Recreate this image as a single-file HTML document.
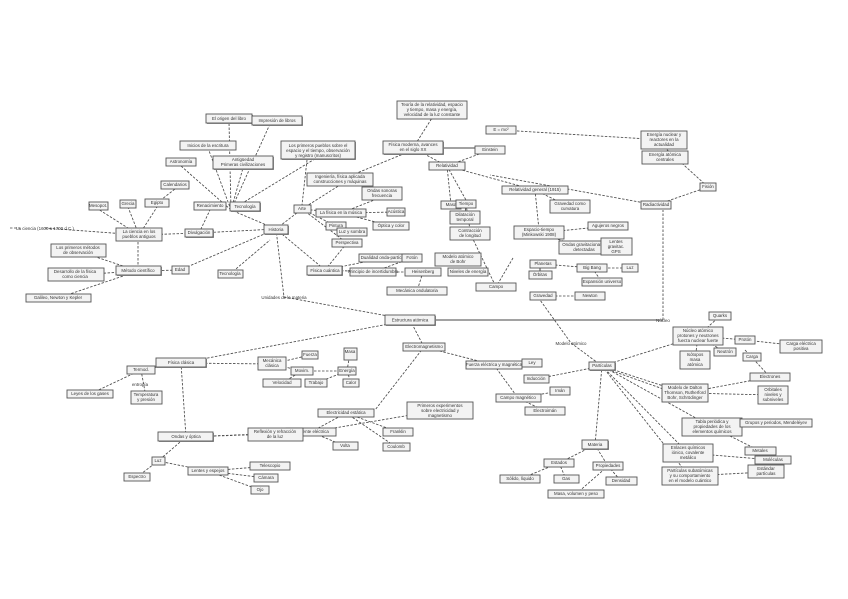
<!DOCTYPE html>
<html><head><meta charset="utf-8"><style>
html,body{margin:0;padding:0;background:#fff;}
svg{display:block}
.b{fill:#f3f3f3;stroke:#555;stroke-width:0.9}
.s{fill:#999}
.l{stroke:#4a4a4a;stroke-width:0.85;fill:none;stroke-dasharray:2.5 1.5}
.ls{stroke:#444;stroke-width:1;fill:none}
text{font-family:"Liberation Sans",sans-serif;font-size:4.4px;fill:#333;text-anchor:middle}
</style></head><body>
<svg width="848" height="599" viewBox="0 0 848 599" xmlns="http://www.w3.org/2000/svg">
<g>
<path class="l" d="M276 229L231 210M231 210L229 122M231 210L270 124M231 210L208 148M231 210L243 168M231 210L181 166M231 210L318 157M307 160L302 205M276 229L199 233M199 233L210 210M199 233L139 235M139 235L157 207M139 235L128 207M139 235L98 209M157 203L175 189M139 235L45 228M138 242L138 266M138 271L78 251M138 271L75 275M138 271L58 298M138 271L180 270M180 270L276 229M230 274L270 240M276 229L302 209M302 209L340 185M302 209L341 213M341 213L396 212M341 213L382 197M341 213L391 226M302 209L336 226L352 232M302 209L347 243M276 229L325 270M325 270L347 243M325 270L384 258M325 270L373 272M373 272L412 258M373 272L423 272M423 272L417 291M276 229L284 297M284 297L410 320M340 180L413 150M413 148L432 118M413 148L447 166M447 166L490 150M447 166L451 205M447 166L535 190M501 130L664 140M447 166L466 200M466 204L465 215M466 204L470 230M535 190L570 207M535 190L539 230M539 233L584 248M539 233L608 226M543 264L592 268M592 268L630 268M592 268L602 282M543 296L590 296M513 258L496 287M470 233L496 287M656 205L708 187M664 147L708 187M656 205L490 175M663 320L663 210M410 320L424 347M424 347L494 365M424 347L375 410M410 320L181 363M602 366L571 343L540 300M602 366L698 336M602 366L685 393M604 368L683 396M602 366L712 427M602 366L688 453M602 366L689 476M602 366L595 445M602 366L536 379M494 365L532 363M494 365L518 398M518 398L560 391M518 398L545 411M698 336L720 316M698 336L745 340M698 336L695 360M698 336L725 352M745 340L800 346M745 350L770 377M685 393L770 377M685 393L773 395M712 427L775 423M712 427L760 451M688 453L773 460M689 476L765 472M595 445L559 463M595 445L608 466M559 463L520 479M559 463L566 479M608 466L621 481M608 466L576 494M181 363L272 364M181 363L141 370M141 370L90 394M141 370L146 397M181 363L186 437M186 437L311 432M186 437L275 434M186 437L158 461M158 461L137 477M158 461L208 471M208 471L270 466M208 471L266 478M208 471L260 490M272 364L310 355M272 364L302 371M302 371L282 383M302 371L347 371M347 371L350 353M347 371L316 383M347 371L351 383M311 432L440 410M311 432L346 413M346 413L398 432M346 413L396 447M311 432L345 446M10 228L20 228"/>
<path class="ls" d="M410 320L663 320M432 148L501 148M540 264L540 275"/>
</g>
<g>
<rect class="s" x="207" y="115" width="46" height="9"/><rect class="b" x="206" y="114" width="46" height="9"/><text x="229" y="120">El origen del libro</text>
<rect class="s" x="253" y="117" width="50" height="9"/><rect class="b" x="252" y="116" width="50" height="9"/><text x="277" y="122">Impresión de libros</text>
<rect class="b" x="180" y="141" width="56" height="9"/><text x="208" y="147">Inicios de la escritura</text>
<rect class="s" x="214" y="157" width="60" height="13"/><rect class="b" x="213" y="156" width="60" height="13"/><text x="243" y="161">Antigüedad</text><text x="243" y="166">Primeras civilizaciones</text>
<rect class="s" x="282" y="142" width="74" height="18"/><rect class="b" x="281" y="141" width="74" height="18"/><text x="318" y="147">Los primeros pueblos sobre el</text><text x="318" y="152">espacio y el tiempo, observación</text><text x="318" y="157">y registro (manuscritos)</text>
<rect class="b" x="166" y="158" width="30" height="8"/><text x="181" y="163">Astronomía</text>
<rect class="b" x="161" y="181" width="28" height="8"/><text x="175" y="186">Calendarios</text>
<rect class="b" x="145" y="199" width="24" height="8"/><text x="157" y="204">Egipto</text>
<rect class="b" x="120" y="200" width="16" height="8"/><text x="128" y="205">Grecia</text>
<rect class="b" x="89" y="202" width="19" height="8"/><text x="98" y="207">Mesopot.</text>
<rect class="b" x="194" y="202" width="32" height="8"/><text x="210" y="207">Renacimiento</text>
<rect class="s" x="231" y="203" width="30" height="9"/><rect class="b" x="230" y="202" width="30" height="9"/><text x="245" y="208">Tecnología</text>
<rect class="s" x="186" y="230" width="28" height="8"/><rect class="b" x="185" y="229" width="28" height="8"/><text x="199" y="234">Divulgación</text>
<rect class="b" x="116" y="228" width="46" height="13"/><text x="139" y="233">La ciencia en los</text><text x="139" y="238">pueblos antiguos</text>
<text x="45" y="230">La ciencia (1600 a 1700 d.C.)</text>
<rect class="b" x="51" y="244" width="55" height="13"/><text x="78" y="249">Los primeros métodos</text><text x="78" y="254">de observación</text>
<rect class="s" x="117" y="267" width="45" height="9"/><rect class="b" x="116" y="266" width="45" height="9"/><text x="138" y="272">Método científico</text>
<rect class="b" x="172" y="266" width="17" height="8"/><text x="180" y="271">Edad</text>
<rect class="b" x="48" y="268" width="56" height="13"/><text x="75" y="273">Desarrollo de la física</text><text x="75" y="278">como ciencia</text>
<rect class="b" x="26" y="294" width="65" height="8"/><text x="58" y="299">Galileo, Newton y Kepler</text>
<rect class="b" x="218" y="270" width="25" height="8"/><text x="230" y="275">Tecnología</text>
<rect class="s" x="265" y="226" width="24" height="9"/><rect class="b" x="264" y="225" width="24" height="9"/><text x="276" y="231">Historia</text>
<rect class="b" x="294" y="205" width="17" height="8"/><text x="302" y="210">Arte</text>
<rect class="b" x="316" y="209" width="50" height="8"/><text x="341" y="214">La física en la música</text>
<rect class="b" x="387" y="208" width="18" height="8"/><text x="396" y="213">Acústica</text>
<rect class="b" x="362" y="187" width="40" height="13"/><text x="382" y="192">Ondas sonoras</text><text x="382" y="197">frecuencia</text>
<rect class="b" x="373" y="222" width="36" height="8"/><text x="391" y="227">Óptica y color</text>
<rect class="b" x="326" y="222" width="20" height="8"/><text x="336" y="227">Pintura</text>
<rect class="b" x="337" y="228" width="30" height="8"/><text x="352" y="233">Luz y sombra</text>
<rect class="b" x="332" y="239" width="30" height="8"/><text x="347" y="244">Perspectiva</text>
<rect class="s" x="308" y="267" width="35" height="9"/><rect class="b" x="307" y="266" width="35" height="9"/><text x="325" y="272">Física cuántica</text>
<rect class="b" x="359" y="254" width="50" height="8"/><text x="384" y="259">Dualidad onda-partícula</text>
<rect class="b" x="350" y="268" width="46" height="8"/><text x="373" y="273">Principio de incertidumbre</text>
<rect class="b" x="402" y="254" width="20" height="8"/><text x="412" y="259">Fotón</text>
<rect class="b" x="405" y="268" width="36" height="8"/><text x="423" y="273">Heisenberg</text>
<rect class="b" x="387" y="287" width="60" height="8"/><text x="417" y="292">Mecánica ondulatoria</text>
<rect class="b" x="435" y="253" width="46" height="13"/><text x="458" y="258">Modelo atómico</text><text x="458" y="263">de Bohr</text>
<rect class="b" x="448" y="268" width="40" height="8"/><text x="468" y="273">Niveles de energía</text>
<text x="284" y="299">Unidades de la materia</text>
<rect class="b" x="307" y="173" width="66" height="13"/><text x="340" y="178">Ingeniería, física aplicada</text><text x="340" y="183">construcciones y máquinas</text>
<rect class="s" x="384" y="142" width="60" height="13"/><rect class="b" x="383" y="141" width="60" height="13"/><text x="413" y="146">Física moderna, avances</text><text x="413" y="151">en el siglo XX</text>
<rect class="b" x="397" y="101" width="70" height="18"/><text x="432" y="106">Teoría de la relatividad, espacio</text><text x="432" y="111">y tiempo, masa y energía,</text><text x="432" y="116">velocidad de la luz constante</text>
<rect class="b" x="486" y="126" width="30" height="8"/><text x="501" y="131">E = mc²</text>
<rect class="b" x="475" y="146" width="30" height="8"/><text x="490" y="151">Einstein</text>
<rect class="b" x="429" y="162" width="36" height="8"/><text x="447" y="167">Relatividad</text>
<rect class="b" x="441" y="201" width="20" height="8"/><text x="451" y="206">Masa</text>
<rect class="b" x="456" y="200" width="20" height="8"/><text x="466" y="205">Tiempo</text>
<rect class="b" x="450" y="211" width="30" height="13"/><text x="465" y="216">Dilatación</text><text x="465" y="221">temporal</text>
<rect class="b" x="450" y="227" width="40" height="13"/><text x="470" y="232">Contracción</text><text x="470" y="237">de longitud</text>
<rect class="b" x="502" y="186" width="66" height="8"/><text x="535" y="191">Relatividad general (1915)</text>
<rect class="b" x="550" y="200" width="40" height="13"/><text x="570" y="205">Gravedad como</text><text x="570" y="210">curvatura</text>
<rect class="b" x="514" y="226" width="50" height="13"/><text x="539" y="231">Espacio-tiempo</text><text x="539" y="236">(Minkowski 1908)</text>
<rect class="b" x="588" y="222" width="40" height="8"/><text x="608" y="227">Agujeros negros</text>
<rect class="b" x="559" y="241" width="50" height="13"/><text x="584" y="246">Ondas gravitacionales</text><text x="584" y="251">detectadas</text>
<rect class="b" x="601" y="238" width="31" height="17"/><text x="616" y="243">Lentes</text><text x="616" y="248">gravitac.</text><text x="616" y="253">GPS</text>
<rect class="b" x="530" y="260" width="26" height="8"/><text x="543" y="265">Planetas</text>
<rect class="b" x="529" y="271" width="23" height="8"/><text x="540" y="276">Órbitas</text>
<rect class="b" x="577" y="264" width="30" height="8"/><text x="592" y="269">Big Bang</text>
<rect class="b" x="622" y="264" width="16" height="8"/><text x="630" y="269">Luz</text>
<rect class="b" x="582" y="278" width="40" height="8"/><text x="602" y="283">Expansión universo</text>
<rect class="b" x="530" y="292" width="26" height="8"/><text x="543" y="297">Gravedad</text>
<rect class="b" x="575" y="292" width="30" height="8"/><text x="590" y="297">Newton</text>
<rect class="b" x="476" y="283" width="40" height="8"/><text x="496" y="288">Campo</text>
<rect class="b" x="641" y="131" width="46" height="18"/><text x="664" y="136">Energía nuclear y</text><text x="664" y="141">reactores en la</text><text x="664" y="146">actualidad</text>
<rect class="b" x="642" y="151" width="46" height="13"/><text x="665" y="156">Energía atómica</text><text x="665" y="161">centrales</text>
<rect class="b" x="700" y="183" width="16" height="8"/><text x="708" y="188">Fisión</text>
<rect class="b" x="641" y="201" width="30" height="8"/><text x="656" y="206">Radiactividad</text>
<rect class="s" x="386" y="316" width="50" height="10"/><rect class="b" x="385" y="315" width="50" height="10"/><text x="410" y="321.5">Estructura atómica</text>
<rect class="b" x="403" y="343" width="42" height="8"/><text x="424" y="348">Electromagnetismo</text>
<text x="663" y="322">Núcleo</text>
<rect class="b" x="673" y="327" width="50" height="18"/><text x="698" y="332">Núcleo atómico</text><text x="698" y="337">protones y neutrones</text><text x="698" y="342">fuerza nuclear fuerte</text>
<rect class="b" x="680" y="351" width="30" height="18"/><text x="695" y="356">Isótopos</text><text x="695" y="361">masa</text><text x="695" y="366">atómica</text>
<rect class="b" x="709" y="312" width="22" height="8"/><text x="720" y="317">Quarks</text>
<rect class="b" x="735" y="336" width="20" height="8"/><text x="745" y="341">Protón</text>
<rect class="b" x="714" y="348" width="22" height="8"/><text x="725" y="353">Neutrón</text>
<rect class="b" x="780" y="340" width="42" height="13"/><text x="801" y="345">Carga eléctrica</text><text x="801" y="350">positiva</text>
<rect class="b" x="743" y="353" width="18" height="8"/><text x="752" y="358">Carga</text>
<rect class="b" x="750" y="373" width="40" height="8"/><text x="770" y="378">Electrones</text>
<rect class="b" x="758" y="386" width="30" height="18"/><text x="773" y="391">Orbitales</text><text x="773" y="396">niveles y</text><text x="773" y="401">subniveles</text>
<rect class="b" x="662" y="384" width="46" height="18"/><text x="685" y="389">Modelo de Dalton</text><text x="685" y="394">Thomson, Rutherford</text><text x="685" y="399">Bohr, Schrödinger</text>
<rect class="b" x="682" y="418" width="60" height="18"/><text x="712" y="423">Tabla periódica y</text><text x="712" y="428">propiedades de los</text><text x="712" y="433">elementos químicos</text>
<rect class="b" x="740" y="419" width="72" height="8"/><text x="776" y="424">Grupos y periodos, Mendeléyev</text>
<rect class="b" x="745" y="447" width="31" height="8"/><text x="760" y="452">Metales</text>
<rect class="b" x="663" y="444" width="50" height="18"/><text x="688" y="449">Enlaces químicos</text><text x="688" y="454">iónico, covalente</text><text x="688" y="459">metálico</text>
<rect class="b" x="755" y="456" width="36" height="8"/><text x="773" y="461">Moléculas</text>
<rect class="b" x="662" y="467" width="56" height="18"/><text x="690" y="472">Partículas subatómicas</text><text x="690" y="477">y su comportamiento</text><text x="690" y="482">en el modelo cuántico</text>
<rect class="b" x="748" y="465" width="36" height="13"/><text x="766" y="470">Estándar</text><text x="766" y="475">partículas</text>
<rect class="s" x="590" y="363" width="26" height="8"/><rect class="b" x="589" y="362" width="26" height="8"/><text x="602" y="367">Partículas</text>
<text x="571" y="345">Modelo atómico</text>
<rect class="b" x="466" y="361" width="56" height="8"/><text x="494" y="366">Fuerza eléctrica y magnética</text>
<rect class="b" x="522" y="359" width="20" height="8"/><text x="532" y="364">Ley</text>
<rect class="b" x="524" y="375" width="25" height="8"/><text x="536" y="380">Inducción</text>
<rect class="b" x="496" y="394" width="45" height="8"/><text x="518" y="399">Campo magnético</text>
<rect class="b" x="550" y="387" width="20" height="8"/><text x="560" y="392">Imán</text>
<rect class="b" x="525" y="407" width="40" height="8"/><text x="545" y="412">Electroimán</text>
<rect class="b" x="407" y="402" width="66" height="17"/><text x="440" y="407">Primeros experimentos</text><text x="440" y="412">sobre electricidad y</text><text x="440" y="417">magnetismo</text>
<rect class="b" x="318" y="409" width="56" height="8"/><text x="346" y="414">Electricidad estática</text>
<rect class="b" x="383" y="428" width="30" height="8"/><text x="398" y="433">Franklin</text>
<rect class="b" x="383" y="443" width="27" height="8"/><text x="396" y="448">Coulomb</text>
<rect class="b" x="286" y="428" width="50" height="8"/><text x="311" y="433">Corriente eléctrica</text>
<rect class="b" x="333" y="442" width="25" height="8"/><text x="345" y="447">Volta</text>
<rect class="s" x="157" y="359" width="50" height="9"/><rect class="b" x="156" y="358" width="50" height="9"/><text x="181" y="364">Física clásica</text>
<rect class="b" x="258" y="357" width="28" height="13"/><text x="272" y="362">Mecánica</text><text x="272" y="367">clásica</text>
<rect class="b" x="302" y="351" width="16" height="8"/><text x="310" y="356">Fuerza</text>
<rect class="b" x="344" y="348" width="13" height="12"/><text x="350" y="353">Masa</text>
<rect class="b" x="291" y="367" width="22" height="8"/><text x="302" y="372">Movim.</text>
<rect class="b" x="338" y="367" width="18" height="8"/><text x="347" y="372">Energía</text>
<rect class="b" x="263" y="379" width="38" height="8"/><text x="282" y="384">Velocidad</text>
<rect class="b" x="305" y="379" width="22" height="8"/><text x="316" y="384">Trabajo</text>
<rect class="b" x="343" y="379" width="16" height="8"/><text x="351" y="384">Calor</text>
<rect class="b" x="127" y="366" width="28" height="8"/><text x="141" y="371">Termod.</text>
<rect class="b" x="67" y="390" width="46" height="8"/><text x="90" y="395">Leyes de los gases</text>
<rect class="b" x="131" y="391" width="31" height="13"/><text x="146" y="396">Temperatura</text><text x="146" y="401">y presión</text>
<text x="140" y="386">entropía</text>
<rect class="s" x="159" y="433" width="55" height="9"/><rect class="b" x="158" y="432" width="55" height="9"/><text x="186" y="438">Ondas y óptica</text>
<rect class="b" x="248" y="428" width="55" height="13"/><text x="275" y="433">Reflexión y refracción</text><text x="275" y="438">de la luz</text>
<rect class="b" x="152" y="457" width="13" height="8"/><text x="158" y="462">Luz</text>
<rect class="b" x="124" y="473" width="26" height="8"/><text x="137" y="478">Espectro</text>
<rect class="b" x="188" y="467" width="40" height="8"/><text x="208" y="472">Lentes y espejos</text>
<rect class="b" x="250" y="462" width="40" height="8"/><text x="270" y="467">Telescopio</text>
<rect class="b" x="254" y="474" width="24" height="8"/><text x="266" y="479">Cámara</text>
<rect class="b" x="251" y="486" width="18" height="8"/><text x="260" y="491">Ojo</text>
<rect class="s" x="583" y="441" width="26" height="9"/><rect class="b" x="582" y="440" width="26" height="9"/><text x="595" y="446">Materia</text>
<rect class="b" x="544" y="459" width="30" height="8"/><text x="559" y="464">Estados</text>
<rect class="b" x="593" y="462" width="30" height="8"/><text x="608" y="467">Propiedades</text>
<rect class="b" x="500" y="475" width="40" height="8"/><text x="520" y="480">Sólido, líquido</text>
<rect class="b" x="554" y="475" width="25" height="8"/><text x="566" y="480">Gas</text>
<rect class="b" x="606" y="477" width="31" height="8"/><text x="621" y="482">Densidad</text>
<rect class="b" x="548" y="490" width="56" height="8"/><text x="576" y="495">Masa, volumen y peso</text>
</g>
</svg>
</body></html>
